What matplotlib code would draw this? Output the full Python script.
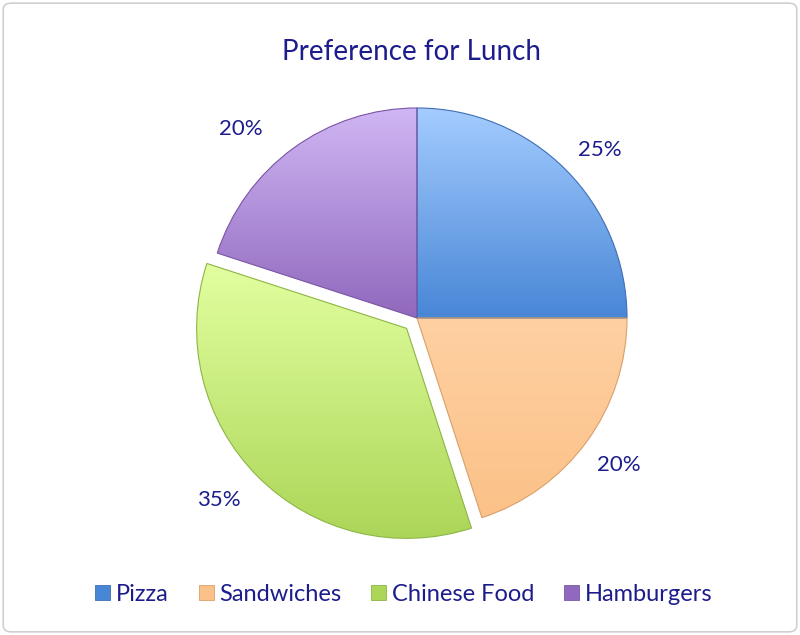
import numpy as np
import matplotlib
matplotlib.use("Agg")
import matplotlib.pyplot as plt
from matplotlib.colors import LinearSegmentedColormap
from matplotlib.patches import FancyBboxPatch

categories = ["Pizza", "Sandwiches", "Chinese Food", "Hamburgers"]
values = [25, 20, 35, 20]
explode = [0, 0, 0.07, 0]
top_colors = ["#A4CCFF", "#FFD0A2", "#E2FFA0", "#D0B6F4"]
bottom_colors = ["#4886D6", "#FBC188", "#ACD658", "#9068BD"]
edge_colors = ["#3F6FB5", "#D9A06A", "#8DB545", "#7A55A5"]
# label placement styling: (radial distance, angular offset in degrees)
label_dist = [1.18, 1.19, 1.21, 1.23]
label_dang = [-2.4, 0.0, -2.6, 7.0]
title = "Preference for Lunch"
text_color = "#1C1C8C"

plt.rcParams["font.family"] = ["Lato", "DejaVu Sans"]

fig = plt.figure(figsize=(8, 6.35), dpi=100)
fig.patch.set_facecolor("white")

# chart border
border = FancyBboxPatch((0.004, 0.005), 0.992, 0.99, boxstyle="round,pad=0,rounding_size=0.01",
                        transform=fig.transFigure, facecolor="none", edgecolor="#D0D0D0", lw=1.2,
                        zorder=-5)
fig.patches.append(border)

ax = fig.add_axes([0.20625, 0.1024, 0.63, 0.7937])
ax.set_aspect("equal")
ax.axis("off")

wedges, texts, autotexts = ax.pie(values, explode=explode, startangle=90, counterclock=False,
                                  autopct="%1.0f%%", pctdistance=1.2, radius=1.0,
                                  textprops=dict(color=text_color, fontsize=16),
                                  wedgeprops=dict(linewidth=0.8))

grad = np.linspace(1, 0, 256).reshape(-1, 1)
for w, tc, bc, ec, at, ld, da in zip(wedges, top_colors, bottom_colors, edge_colors,
                                     autotexts, label_dist, label_dang):
    w.set_facecolor("none")
    w.set_edgecolor(ec)
    cmap = LinearSegmentedColormap.from_list("g", [bc, tc])
    ext = w.get_path().get_extents()
    im = ax.imshow(grad, cmap=cmap, extent=(ext.x0, ext.x1, ext.y0, ext.y1),
                   aspect="auto", zorder=w.get_zorder() - 0.1, vmin=0, vmax=1)
    im.set_clip_path(w)
    # position percentage label
    mid = np.deg2rad((w.theta1 + w.theta2) / 2 + da)
    cx, cy = w.center
    at.set_position((cx + ld * np.cos(mid), cy + ld * np.sin(mid)))
ax.set_xlim(-1.2, 1.2)
ax.set_ylim(-1.2, 1.2)

fig.text(0.515, 0.918, title, ha="center", va="center", color=text_color, fontsize=20)

handles = [plt.Rectangle((0, 0), 1, 1, facecolor=bc, edgecolor=ec, lw=0.6)
           for bc, ec in zip(bottom_colors, edge_colors)]
leg = fig.legend(handles, categories, loc="center", bbox_to_anchor=(0.505, 0.064), ncol=4,
                 frameon=False, fontsize=17, handlelength=0.64, handleheight=0.64,
                 handletextpad=0.25, columnspacing=1.25)
for t in leg.get_texts():
    t.set_color(text_color)

fig.savefig("out.png", dpi=100, facecolor="white")
